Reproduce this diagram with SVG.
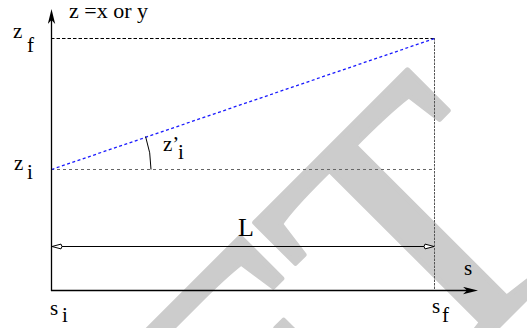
<svg xmlns="http://www.w3.org/2000/svg" width="527" height="328" viewBox="0 0 527 328">
<style>
text{font-family:'Liberation Serif',serif}
.lbl{font-size:21px;fill:#000}
.big{font-size:26px}
.top{font-size:22px}
.wm{font-size:375px;fill:#cccccc;stroke:#cccccc;stroke-width:5;stroke-linejoin:round}
.axis{stroke:#000;stroke-width:1.3;fill:none}
.guide{stroke-width:1;fill:none}
</style>
<defs>
<marker id="ah" markerUnits="userSpaceOnUse" viewBox="0 0 16 8" markerWidth="16" markerHeight="8" refX="4" refY="3.7" orient="auto">
<path d="M0,0 L15,3.7 L0,7.4 L4,3.7 Z" fill="#000"/>
</marker>
<marker id="oh" markerUnits="userSpaceOnUse" viewBox="-2 -4 14 8" markerWidth="14" markerHeight="8" refX="10" refY="0" orient="auto-start-reverse">
<path d="M10,0 L1,-2.4 Q-1,0 1,2.4 Z" fill="#fff" stroke="#000" stroke-width="1"/>
</marker>
</defs>
<g id="watermark">
<text class="wm" transform="rotate(-45)" x="245" y="583" text-anchor="end">DRAFT</text>
</g>
<g id="connectors">
<line id="zf-line" class="guide" x1="51" y1="38.5" x2="434" y2="38.5" stroke="#000" stroke-dasharray="3.5 2"/>
<line id="sf-line" class="guide" x1="434.5" y1="38" x2="434.5" y2="290" stroke="#555" stroke-dasharray="2.5 1"/>
<line id="zi-line" class="guide" x1="51" y1="169.5" x2="434" y2="169.5" stroke="#666" stroke-dasharray="3 3"/>
<line id="slope" x1="51.5" y1="169.5" x2="434.5" y2="38.5" stroke="#1a1aff" stroke-width="1.3" stroke-dasharray="3 2.5"/>
<path id="angle" d="M145.6,136.6 A100,100 0 0 1 151,169.5" fill="none" stroke="#000" stroke-width="1"/>
<line id="L-dim" x1="52" y1="246.5" x2="434" y2="246.5" stroke="#000" stroke-width="1.2" marker-start="url(#oh)" marker-end="url(#oh)"/>
<line id="y-axis" class="axis" x1="51.5" y1="291" x2="51.5" y2="20" marker-end="url(#ah)"/>
<line id="x-axis" class="axis" x1="51" y1="290.5" x2="467" y2="290.5" marker-end="url(#ah)"/>
</g>
<g id="labels">
<text class="lbl top" x="69" y="18">z =x or y</text>
<text class="lbl" x="13" y="38">z</text><text class="lbl" x="27" y="52">f</text>
<text class="lbl" x="14" y="170">z</text><text class="lbl" x="27" y="179">i</text>
<text class="lbl" x="163" y="151">z’</text><text class="lbl" x="178" y="159">i</text>
<text class="lbl big" x="238" y="236">L</text>
<text class="lbl" x="464" y="275">s</text>
<text class="lbl" x="50" y="315">s</text><text class="lbl" x="62" y="322">i</text>
<text class="lbl" x="432" y="313">s</text><text class="lbl" x="442" y="322">f</text>
</g>
</svg>
